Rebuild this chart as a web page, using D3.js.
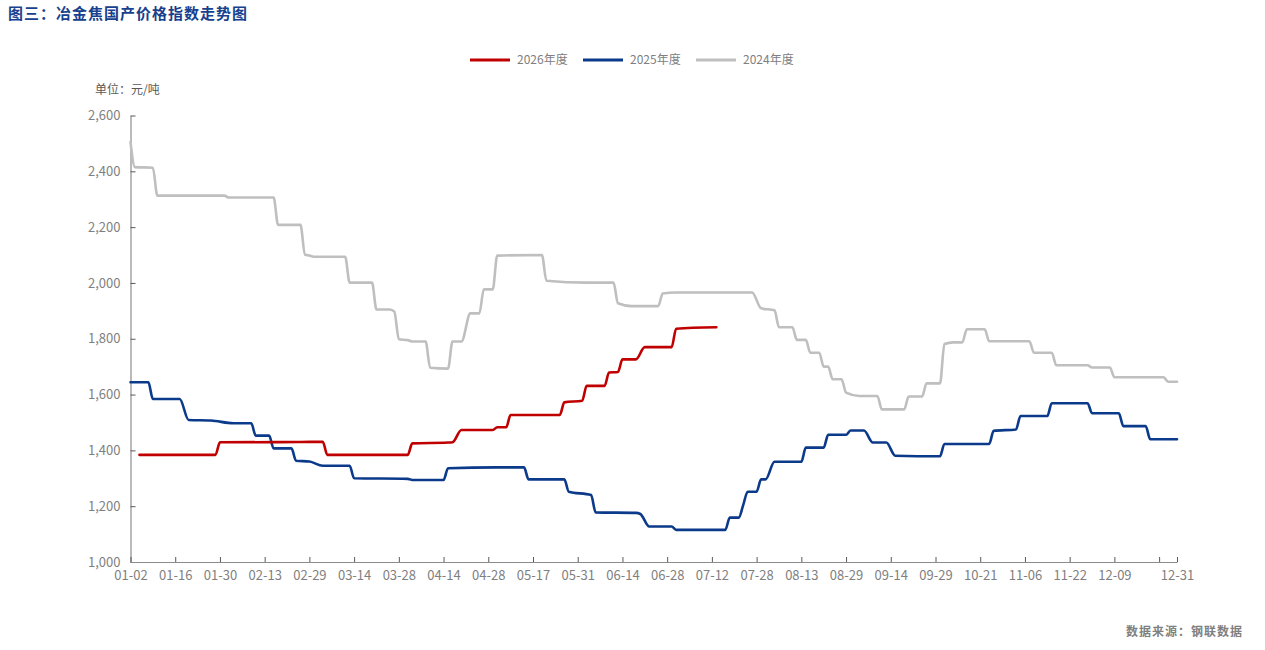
<!DOCTYPE html>
<html>
<head>
<meta charset="utf-8">
<script src="https://cdn.jsdelivr.net/npm/d3@7"></script>
<style>
  body { margin: 0; background: #fff; }
  svg text { font-family: "Noto Sans CJK SC", "Noto Sans", sans-serif; }
</style>
</head>
<body>
<div id="chart"></div>
<script>
// trading-day index on the category axis -> tick labels
const tickIndex = [0, 10, 20, 30, 40, 50, 60, 70, 80, 90, 100, 110, 120, 130, 140, 150, 160, 170, 180, 190, 200, 210, 220, 230, 234];
const tickLabels = ["01-02", "01-16", "01-30", "02-13", "02-29", "03-14", "03-28", "04-14", "04-28", "05-17", "05-31", "06-14", "06-28",
    "07-12", "07-28", "08-13", "08-29", "09-14", "09-29", "10-21", "11-06", "11-22", "12-09", "", "12-31"];

const yTicks = [1000, 1200, 1400, 1600, 1800, 2000, 2200, 2400, 2600];

// [category index, 元/吨] at every level change
const s2026 = [[2, 1384], [19, 1384], [20, 1429], [38, 1430], [43, 1431], [44, 1384], [62, 1384], [63, 1425], [71, 1428], [72, 1429],
    [74, 1473], [81, 1473], [82, 1483], [84, 1483], [85, 1527], [96, 1527], [97, 1572], [101, 1578], [102, 1631], [106, 1631],
    [107, 1679], [109, 1681], [110, 1726], [113, 1726], [115, 1770], [121, 1770], [122, 1836], [131, 1841]];

const s2025 = [[0, 1644], [4, 1644], [5, 1584], [11, 1584], [13, 1509], [18, 1507], [23, 1497], [27, 1497], [28, 1453], [31, 1453],
    [32, 1407], [36, 1407], [37, 1363], [40, 1360], [43, 1345], [49, 1345], [50, 1300], [62, 1298], [63, 1294], [70, 1294],
    [71, 1336], [82, 1339], [88, 1339], [89, 1296], [97, 1296], [98, 1252], [103, 1240], [104, 1178], [113, 1176], [114, 1172],
    [116, 1127], [121, 1127], [122, 1115], [133, 1115], [134, 1159], [136, 1159], [137, 1204], [138, 1252], [140, 1252], [141, 1296],
    [142, 1296], [144, 1359], [150, 1359], [151, 1410], [155, 1410], [156, 1456], [160, 1456], [161, 1471], [164, 1471], [166, 1428],
    [169, 1428], [171, 1381], [181, 1379], [182, 1423], [192, 1423], [193, 1470], [198, 1475], [199, 1523], [205, 1523], [206, 1569],
    [214, 1569], [215, 1533], [221, 1533], [222, 1487], [227, 1487], [228, 1440], [234, 1440]];

const s2024 = [[0, 2505], [1, 2415], [5, 2413], [6, 2313], [21, 2313], [22, 2306], [32, 2306], [33, 2208], [38, 2208], [39, 2102],
    [40, 2098], [41, 2094], [48, 2094], [49, 2001], [54, 2001], [55, 1905], [58, 1905], [59, 1897], [60, 1798], [62, 1795],
    [63, 1790], [66, 1790], [67, 1696], [71, 1693], [72, 1790], [74, 1790], [76, 1891], [78, 1891], [79, 1977], [81, 1977],
    [82, 2098], [92, 2100], [93, 2008], [102, 2001], [108, 2001], [109, 1927], [112, 1917], [118, 1917], [119, 1962], [122, 1966],
    [139, 1966], [141, 1909], [144, 1902], [145, 1841], [148, 1841], [149, 1796], [151, 1796], [152, 1750], [154, 1750], [155, 1700],
    [156, 1700], [157, 1655], [159, 1655], [160, 1607], [163, 1595], [167, 1595], [168, 1547], [173, 1547], [174, 1593], [177, 1593],
    [178, 1640], [181, 1640], [182, 1781], [184, 1787], [186, 1787], [187, 1834], [191, 1834], [192, 1791], [201, 1791], [202, 1750],
    [206, 1750], [207, 1705], [214, 1705], [215, 1697], [219, 1697], [220, 1662], [231, 1662], [232, 1646], [234, 1646]];

const seriesNames = ["2026年度", "2025年度", "2024年度"];
const seriesColors = ["#C00000", "#0B3A8A", "#BFBFBF"];
const seriesData = [s2026, s2025, s2024];

const width = 1265;
const height = 650;

const svg = d3.select("#chart")
    .append("svg")
    .attr("width", width)
    .attr("height", height);

const x = d3.scaleLinear().domain([0, 234]).range([130.5, 1177]);
const y = d3.scaleLinear().domain([1000, 2600]).range([562, 115.5]);

// title
svg.append("text")
    .attr("x", 8)
    .attr("y", 19)
    .attr("fill", "#17408E")
    .attr("font-size", 15)
    .attr("font-weight", "bold")
    .attr("letter-spacing", 1)
    .text("图三：冶金焦国产价格指数走势图");

// unit
svg.append("text")
    .attr("x", 95)
    .attr("y", 94)
    .attr("fill", "#595959")
    .attr("font-size", 12)
    .text("单位：元/吨");

// y axis
const yAxis = d3.axisLeft(y)
    .tickValues(yTicks)
    .tickFormat(d3.format(","))
    .tickSizeInner(-5)
    .tickSizeOuter(0)
    .tickPadding(10);

const gy = svg.append("g")
    .attr("transform", `translate(${x(0)},0)`)
    .call(yAxis);

// x axis
const xAxis = d3.axisBottom(x)
    .tickValues(tickIndex)
    .tickFormat((d, i) => tickLabels[i])
    .tickSizeInner(-5)
    .tickSizeOuter(0)
    .tickPadding(9);

const gx = svg.append("g")
    .attr("transform", `translate(0,${y(1000)})`)
    .call(xAxis);

[gx, gy].forEach(g => {
    g.select(".domain").attr("stroke", "#8C8C8C").attr("stroke-width", 1.2);
    g.selectAll(".tick line").attr("stroke", "#595959");
    g.selectAll(".tick text")
        .attr("fill", "#7F7F7F")
        .attr("font-size", 13)
        .style("font-family", "'Noto Sans CJK SC', 'Noto Sans', sans-serif");
});

// lines (drawn back to front: 2024, 2025, 2026)
const line = d3.line()
    .x(d => x(d[0]))
    .y(d => y(d[1]))
    .curve(d3.curveMonotoneX);

const order = [2, 1, 0];
svg.append("g")
    .selectAll("path")
    .data(order)
    .join("path")
    .attr("d", k => line(seriesData[k]))
    .attr("fill", "none")
    .attr("stroke", k => seriesColors[k])
    .attr("stroke-width", 2.6)
    .attr("stroke-linejoin", "round")
    .attr("stroke-linecap", "round");

// legend
const legendStart = 470;
const legendStep = 113;
const legend = svg.append("g")
    .selectAll("g")
    .data(seriesNames)
    .join("g")
    .attr("transform", (d, i) => `translate(${legendStart + i * legendStep},60)`);

legend.append("line")
    .attr("x1", 0)
    .attr("x2", 40)
    .attr("stroke", (d, i) => seriesColors[i])
    .attr("stroke-width", 3);

legend.append("text")
    .attr("x", 47)
    .attr("dy", "0.35em")
    .attr("fill", "#808080")
    .attr("font-size", 12)
    .text(d => d);

// source
svg.append("text")
    .attr("x", 1243)
    .attr("y", 636)
    .attr("text-anchor", "end")
    .attr("fill", "#7F7F7F")
    .attr("font-size", 12)
    .attr("font-weight", "bold")
    .attr("letter-spacing", 1)
    .text("数据来源：钢联数据");
</script>
</body>
</html>
